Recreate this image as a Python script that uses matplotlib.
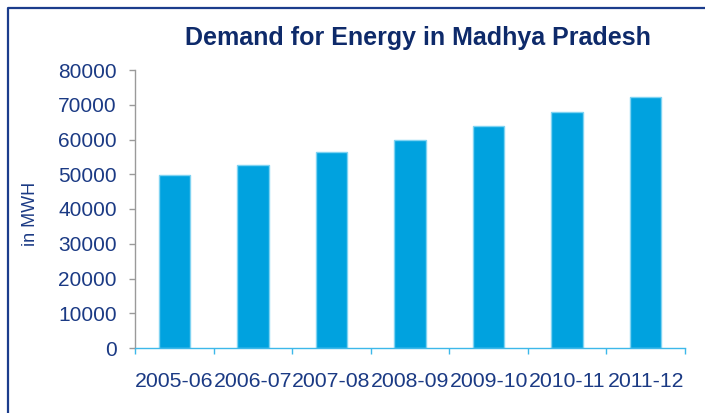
import matplotlib
matplotlib.use("Agg")
import matplotlib.pyplot as plt
from matplotlib.lines import Line2D

categories = ["2005-06", "2006-07", "2007-08", "2008-09", "2009-10", "2010-11", "2011-12"]
demand = [49800, 52800, 56500, 59800, 63800, 68000, 72100]
yticks = [0, 10000, 20000, 30000, 40000, 50000, 60000, 70000, 80000]

plt.rcParams['font.family'] = ['Liberation Sans', 'DejaVu Sans']

W, H = 705, 413
fig = plt.figure(figsize=(W / 100, H / 100), dpi=100)
fig.patch.set_facecolor('white')
ax = fig.add_axes([135 / W, 1 - 348 / H, 550 / W, 278 / H])

bar_color = '#00A2DF'
edge_color = '#7FD3F2'
txt_color = '#1B3A84'
title_color = '#0E2A6A'

x = list(range(len(categories)))
ax.bar(x, demand, width=0.4, color=bar_color, edgecolor=edge_color, linewidth=1.0, zorder=2)

ax.set_xlim(-0.5, len(categories) - 0.5)
ax.set_ylim(0, 80000)
ax.set_yticks(yticks)
ax.set_yticklabels([str(v) for v in yticks])
ax.set_xticks(x)
ax.set_xticklabels(categories)
ax.set_xticks([i - 0.5 for i in range(len(categories) + 1)], minor=True)

for s in ['top', 'right']:
    ax.spines[s].set_visible(False)
ax.spines['left'].set_color('#9A9A9A')
ax.spines['left'].set_linewidth(1.0)
ax.spines['bottom'].set_color('#3DB8EA')
ax.spines['bottom'].set_linewidth(1.0)

ax.tick_params(axis='y', which='major', length=4.5, width=1.0, color='#9A9A9A',
               labelsize=15, labelcolor=txt_color, pad=8.5)
ax.tick_params(axis='x', which='major', length=0, labelsize=15.3, labelcolor=txt_color, pad=17)
ax.tick_params(axis='x', which='minor', length=4, width=1.0, color='#3DB8EA', direction='out')

ax.set_ylabel('in MWH', fontsize=13, color=txt_color, labelpad=0)
ax.yaxis.set_label_coords((39 - 135) / 550, (348 - 213.5) / 278)

fig.text(417.5 / W, 1 - 45 / H, 'Demand for Energy in Madhya Pradesh', ha='center', va='baseline',
         fontsize=18, fontweight='bold', color=title_color)

# frame border (left and top)
fig.add_artist(Line2D([7.5 / W, 7.5 / W, 1.0], [0.0, 1 - 7.5 / H, 1 - 7.5 / H],
                      transform=fig.transFigure, color='#1B3C8C', linewidth=1.6))

fig.savefig('out.png', dpi=100, facecolor='white')
